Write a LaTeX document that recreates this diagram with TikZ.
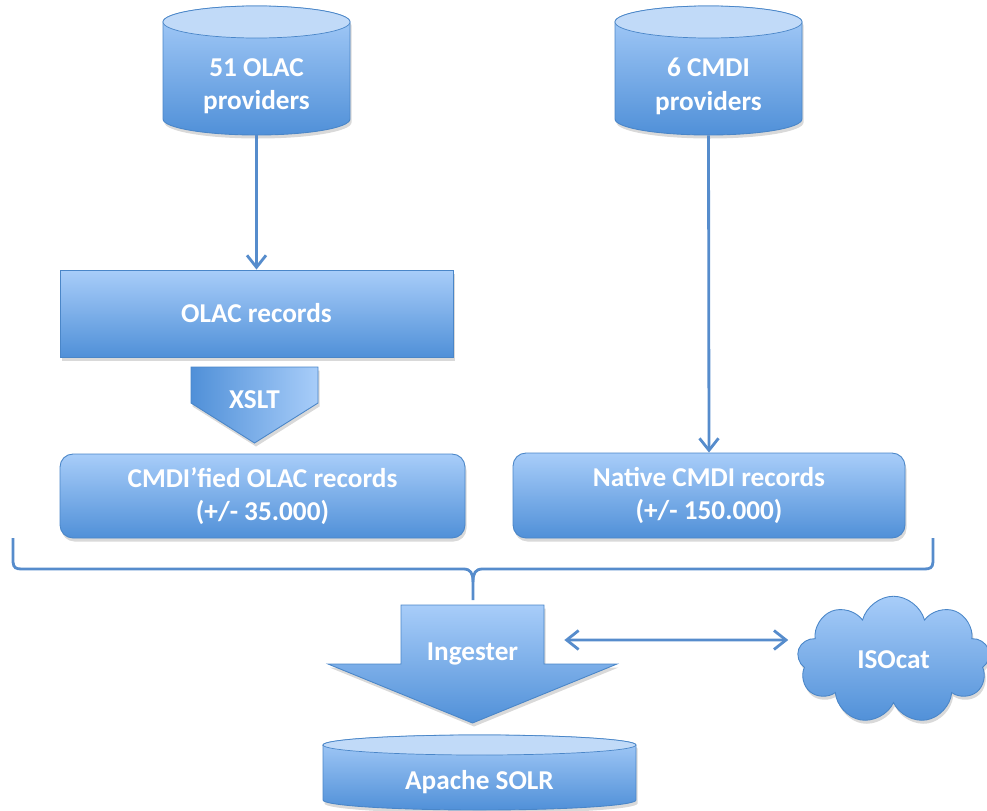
\documentclass[tikz,border=0pt]{standalone}
\usepackage{fontspec}
\setmainfont{Carlito}
\usepackage{tikz}
\usetikzlibrary{calc,math}
\usetikzlibrary{shapes,arrows,arrows.meta,shadows}
\usetikzlibrary{shapes.geometric,shapes.symbols}

\definecolor{boxtop}{RGB}{168,205,249}
\definecolor{boxbot}{RGB}{80,144,216}
\definecolor{boxedge}{RGB}{74,134,200}
\definecolor{linkblue}{RGB}{86,140,204}
\definecolor{capface}{RGB}{193,218,248}

\tikzset{
  shaded/.style={top color=boxtop, bottom color=boxbot, draw=boxedge, line width=0.5pt,
    drop shadow={opacity=0.3, shadow xshift=0.03cm, shadow yshift=-0.07cm}},
  lbl/.style={text=white, font=\bfseries\fontsize{15.5}{19}\selectfont, align=center, inner sep=0pt},
  link/.style={draw=linkblue, line width=1.6pt, -{Straight Barb[length=2.4mm, width=3.8mm]}},
  linkboth/.style={draw=linkblue, line width=1.6pt, {Straight Barb[length=2.4mm, width=3.8mm]}-{Straight Barb[length=2.4mm, width=3.8mm]}},
}

\begin{document}
\begin{tikzpicture}
  \useasboundingbox (0,0) rectangle (19.74,-16.22);

  % Providers
  \foreach \cx/\nm/\txt in {5.13/olac/{51 OLAC\\providers}, 14.17/cmdi/{6 CMDI\\providers}} {
    \path[shaded] (\cx-1.87,-0.44) -- (\cx-1.87,-2.38)
      arc[start angle=180, end angle=360, x radius=1.87, y radius=0.32]
      -- (\cx+1.87,-0.44) arc[start angle=0, end angle=180, x radius=1.87, y radius=0.32] -- cycle;
    \draw[boxedge, fill=capface] (\cx,-0.44) ellipse[x radius=1.87, y radius=0.32];
    \node[lbl, minimum width=3.74cm, minimum height=1.94cm] (\nm) at (\cx,-1.73) {\txt};
  }

  % Records
  \node[shaded, lbl, minimum width=7.86cm, minimum height=1.74cm] (olacrec) at (5.13,-6.27) {OLAC records};
  \node[shaded, lbl, rounded corners=0.26cm, minimum width=8.1cm, minimum height=1.68cm] (cmdified) at (5.25,-9.92) {CMDI’fied OLAC records\\(+/- 35.000)};
  \node[shaded, lbl, rounded corners=0.26cm, minimum width=7.84cm, minimum height=1.7cm] (native) at (14.18,-9.91) {Native CMDI records\\(+/- 150.000)};

  % XSLT
  \path[shaded, left color=boxbot, right color=boxtop] (3.82,-7.34) -- (6.36,-7.34) -- (6.36,-8.06) -- (5.09,-8.86) -- (3.82,-8.06) -- cycle;
  \node[lbl] (xslt) at (5.09,-8.0) {XSLT};

  \draw[link] (olac.south) -- (olacrec.north);
  \draw[link] (cmdi.south) -- (native.north);

  % Brace
  \draw[linkblue, line width=1.6pt] (0.26,-10.76) -- (0.26,-11.24)
    .. controls (0.27,-11.36) and (0.32,-11.38) .. (0.44,-11.38) -- (9.27,-11.38)
    .. controls (9.41,-11.38) and (9.46,-11.46) .. (9.46,-11.64) -- (9.46,-12.0);
  \draw[linkblue, line width=1.6pt] (18.66,-10.76) -- (18.66,-11.24)
    .. controls (18.65,-11.36) and (18.6,-11.38) .. (18.48,-11.38) -- (9.65,-11.38)
    .. controls (9.51,-11.38) and (9.46,-11.46) .. (9.46,-11.64);

  % Ingester
  \path[shaded] (8.02,-12.1) -- (10.88,-12.1) -- (10.88,-13.28) -- (12.34,-13.28) -- (9.45,-14.46)
    -- (6.56,-13.28) -- (8.02,-13.28) -- cycle;
  \node[lbl, minimum width=2.86cm] (ingester) at (9.45,-13.08) {Ingester};

  % Apache SOLR
  \path[shaded] (6.46,-14.9) -- (6.46,-16.0)
    arc[start angle=180, end angle=360, x radius=3.13, y radius=0.2]
    -- (12.72,-14.9) arc[start angle=0, end angle=180, x radius=3.13, y radius=0.2] -- cycle;
  \draw[boxedge, fill=capface] (9.59,-14.9) ellipse[x radius=3.13, y radius=0.2];
  \node[lbl, minimum width=6.26cm, minimum height=1.1cm] (solr) at (9.59,-15.65) {Apache SOLR};

  % ISOcat
  \node[shaded, lbl, cloud, cloud puffs=9, aspect=1.5, minimum width=3.85cm, minimum height=2.55cm] (isocat) at (17.87,-13.2) {ISOcat};
  \draw[linkboth] ([shift={(0.4,0.28)}]ingester.east) -- ([shift={(-0.2,0.4)}]isocat.west);
\end{tikzpicture}
\end{document}
